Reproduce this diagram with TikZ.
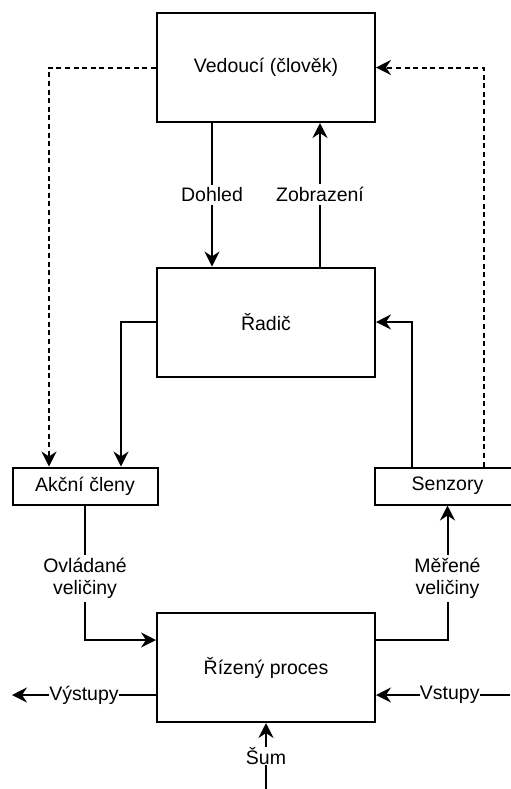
\documentclass[tikz,border=0pt]{standalone}
\usepackage{fontspec}
\setmainfont{Liberation Sans}
\usepackage{tikz}
\usetikzlibrary{arrows.meta}

\begin{document}
\begin{tikzpicture}[
    x=0.5pt, y=-0.5pt,
    every node/.style={font=\fontsize{9.75}{11}\selectfont},
    box/.style={draw, line width=1pt, minimum width=109pt, minimum height=54.5pt, align=center},
    smallbox/.style={draw, line width=1pt, minimum width=72.5pt, minimum height=18.5pt, inner sep=0pt},
    arr/.style={-{Stealth[length=7.5pt, width=7.5pt, inset=2.5pt]}, line width=1pt},
    dasharr/.style={arr, dash pattern=on 2.5pt off 1.8pt},
    lbl/.style={fill=white, inner sep=1.5pt, align=center}
]
    \useasboundingbox (0,0) rectangle (510,789);

    % Main blocks
    \node[box] (ved) at (266,67.5) {Vedoucí (člověk)};
    \node[box] (rad) at (266,322) {Řadič};
    \node[box] (riz) at (266,667.5) {Řízený proces};
    \node[smallbox] (akc) at (85,486) {Akční členy};
    \node[smallbox] (sen) at (447.5,486) {Senzory};

    % Free ends
    \coordinate (vyst) at (12,695);
    \coordinate (vst) at (510,695);
    \coordinate (sum) at (266,789);

    % Human loop
    \draw[arr] ([xshift=-27pt]ved.south) -- node[lbl] {Dohled} ([xshift=-27pt]rad.north);
    \draw[arr] ([xshift=27pt]rad.north) -- node[lbl] {Zobrazení} ([xshift=27pt]ved.south);
    \draw[dasharr] (ved.west) -| ([xshift=-18pt]akc.north);
    \draw[dasharr] ([xshift=18pt]sen.north) |- (ved.east);

    % Control loop
    \draw[arr] (rad.west) -| ([xshift=18pt]akc.north);
    \draw[arr] ([xshift=-18pt]sen.north) |- (rad.east);
    \draw[arr] (akc.south) |- node[lbl, pos=0.272] {Ovládané\\veličiny} ([yshift=13.75pt]riz.west);
    \draw[arr] ([yshift=13.75pt]riz.east) -| node[lbl, pos=0.728] {Měřené\\veličiny} (sen.south);

    % Process inputs and outputs
    \draw[arr] ([yshift=-13.75pt]riz.west) -- node[lbl, inner sep=0pt] {Výstupy} (vyst);
    \draw[arr] (vst) -- node[lbl, inner sep=0pt, pos=0.45] {Vstupy} ([yshift=-13.75pt]riz.east);
    \draw[arr] (sum) -- node[lbl, inner sep=0pt] {Šum} (riz.south);
\end{tikzpicture}
\end{document}
